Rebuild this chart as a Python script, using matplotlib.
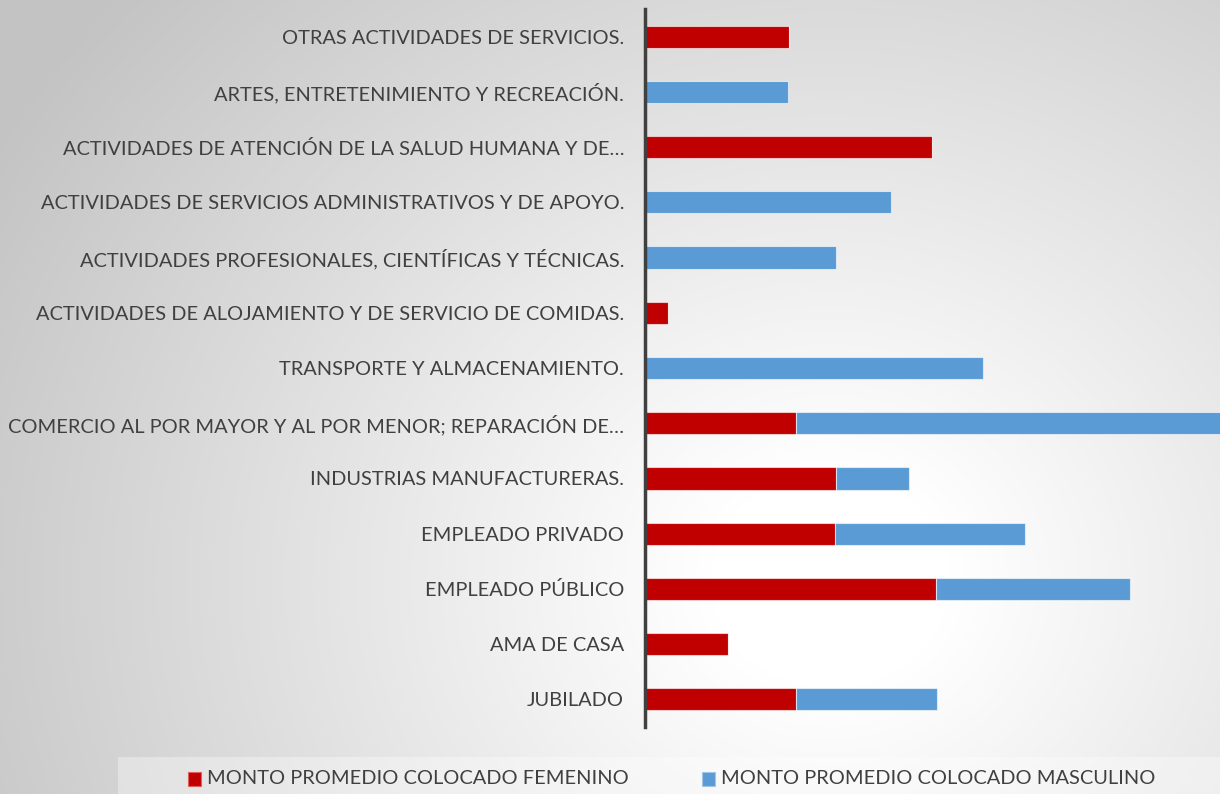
import numpy as np
import matplotlib
matplotlib.use("Agg")
import matplotlib.pyplot as plt
from matplotlib.patches import Rectangle

plt.rcParams['font.family'] = ['Lato', 'DejaVu Sans']

categories = [
    "OTRAS ACTIVIDADES DE SERVICIOS.",
    "ARTES, ENTRETENIMIENTO Y RECREACIÓN.",
    "ACTIVIDADES DE ATENCIÓN DE LA SALUD HUMANA Y DE…",
    "ACTIVIDADES DE SERVICIOS ADMINISTRATIVOS Y DE APOYO.",
    "ACTIVIDADES PROFESIONALES, CIENTÍFICAS Y TÉCNICAS.",
    "ACTIVIDADES DE ALOJAMIENTO Y DE SERVICIO DE COMIDAS.",
    "TRANSPORTE Y ALMACENAMIENTO.",
    "COMERCIO AL POR MAYOR Y AL POR MENOR; REPARACIÓN DE…",
    "INDUSTRIAS MANUFACTURERAS.",
    "EMPLEADO PRIVADO",
    "EMPLEADO PÚBLICO",
    "AMA DE CASA",
    "JUBILADO",
]
femenino = [144, 0, 287, 0, 0, 23, 0, 151, 191, 190, 291, 83, 151]
masculino = [0, 143, 0, 246, 191, 0, 338, 450, 73, 190, 194, 0, 141]
series_names = ["MONTO PROMEDIO COLOCADO FEMENINO", "MONTO PROMEDIO COLOCADO MASCULINO"]
x_max = 575

W, H = 1220, 794
fig = plt.figure(figsize=(W / 100, H / 100), dpi=100)

# radial gradient background
bg = fig.add_axes([0, 0, 1, 1], zorder=-10)
yy, xx = np.mgrid[0:H, 0:W]
r = np.sqrt(((xx - 830) / 1.0) ** 2 + ((yy - 580) / 0.9) ** 2)
val = 255 - 55 * np.clip((r - 120) / 780, 0, None)
val = np.clip(val, 195, 255) / 255.0
img = np.dstack([val, val, val])
bg.imshow(img, extent=[0, W, H, 0], aspect='auto', interpolation='bilinear')
bg.set_xlim(0, W)
bg.set_ylim(H, 0)
bg.axis('off')
# legend band
bg.add_patch(Rectangle((118, 757), W - 118, 40, facecolor='white', alpha=0.35, edgecolor='none'))

ax = fig.add_axes([645 / W, 1 - 727 / H, 1 - 645 / W, (727 - 9) / H])
ax.patch.set_alpha(0)
y = np.arange(len(categories))
ax.barh(y, femenino, height=0.40, color='#C00000', edgecolor=(1, 1, 1, 0.6), linewidth=0.8)
ax.barh(y, masculino, left=femenino, height=0.40, color='#5B9BD5', edgecolor=(1, 1, 1, 0.6), linewidth=0.8)
ax.set_xlim(0, x_max)
ax.set_ylim(len(categories) - 0.5, -0.5)
ax.set_yticks(y)
ax.set_yticklabels(categories, fontsize=14.4, color='#404040')
ax.tick_params(axis='y', length=0, pad=15)
ax.set_xticks([])
for s in ['top', 'right', 'bottom']:
    ax.spines[s].set_visible(False)
ax.spines['left'].set_color('#404040')
ax.spines['left'].set_linewidth(2.5)

# legend
ly = 1 - 779 / H
fig.patches.append(Rectangle((188 / W, 1 - 786 / H), 13 / W, 14 / H, transform=fig.transFigure,
                             facecolor='#C00000', edgecolor='#e06060', linewidth=0.8))
fig.text(207 / W, ly, series_names[0], fontsize=14.4, color='#404040', va='center', ha='left')
fig.patches.append(Rectangle((702 / W, 1 - 786 / H), 13 / W, 14 / H, transform=fig.transFigure,
                             facecolor='#5B9BD5', edgecolor='#a0c4e8', linewidth=0.8))
fig.text(721 / W, ly, series_names[1], fontsize=14.4, color='#404040', va='center', ha='left')

fig.savefig("out.png", dpi=100)
